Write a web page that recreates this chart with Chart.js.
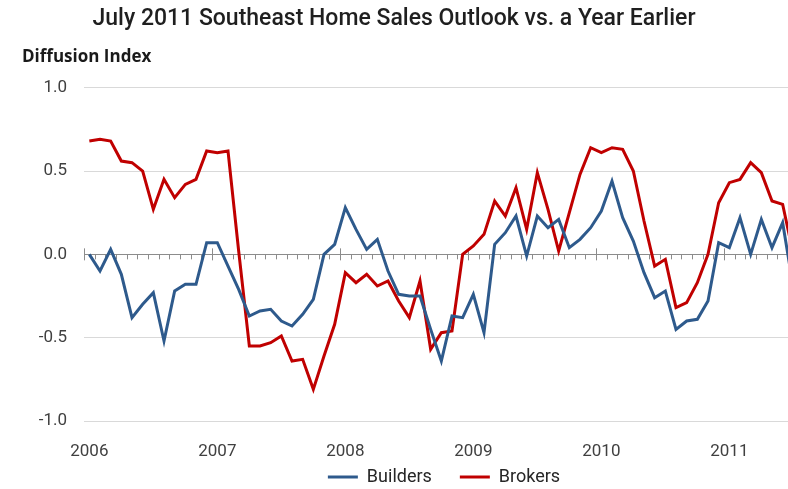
<!DOCTYPE html>
<html><head><meta charset="utf-8">
<script src="https://cdn.jsdelivr.net/npm/chart.js@4.4.1/dist/chart.umd.min.js"></script>
<style>html,body{margin:0;padding:0;background:#fff;overflow:hidden}#wrap{width:788px;height:489px;position:relative}</style>
</head><body><div id="wrap"><canvas id="c"></canvas></div>
<script>
const yearLabels = ['2006','2007','2008','2009','2010','2011'];
const monthNames = ['Jan','Feb','Mar','Apr','May','Jun','Jul','Aug','Sep','Oct','Nov','Dec'];
const categories = [];
yearLabels.forEach(y => monthNames.forEach(m => categories.push(m + ' ' + y)));
categories.length = 67; // Jan 2006 – Jul 2011

const builders = [
  0.00,-0.10, 0.03,-0.12,-0.38,-0.30,-0.23,-0.52,-0.22,-0.18,-0.18, 0.07,
  0.07,-0.07,-0.21,-0.37,-0.34,-0.33,-0.40,-0.43,-0.36,-0.27, 0.00, 0.06,
  0.28, 0.15, 0.03, 0.09,-0.10,-0.24,-0.25,-0.25,-0.45,-0.64,-0.37,-0.38,
 -0.24,-0.47, 0.06, 0.13, 0.23,-0.01, 0.23, 0.16, 0.21, 0.04, 0.09, 0.16,
  0.26, 0.44, 0.22, 0.08,-0.11,-0.26,-0.22,-0.45,-0.40,-0.39,-0.28, 0.07,
  0.04, 0.22, 0.00, 0.21, 0.04, 0.19,-0.20
];
const brokers = [
  0.68, 0.69, 0.68, 0.56, 0.55, 0.50, 0.27, 0.45, 0.34, 0.42, 0.45, 0.62,
  0.61, 0.62, 0.02,-0.55,-0.55,-0.53,-0.49,-0.64,-0.63,-0.81,-0.61,-0.42,
 -0.11,-0.17,-0.12,-0.19,-0.16,-0.28,-0.38,-0.16,-0.57,-0.47,-0.46, 0.00,
  0.05, 0.12, 0.32, 0.23, 0.40, 0.15, 0.49, 0.27, 0.02, 0.25, 0.48, 0.64,
  0.61, 0.64, 0.63, 0.50, 0.20,-0.07,-0.03,-0.32,-0.29,-0.17, 0.00, 0.31,
  0.43, 0.45, 0.55, 0.49, 0.32, 0.30, 0.00
];
const yTickValues = [-1.0, -0.5, 0.0, 0.5, 1.0];

const toPoints = arr => arr.map((v, i) => ({x: i + 0.5, y: v, label: categories[i]}));

const zeroTicks = {
  id: 'zeroTicks',
  beforeDatasetsDraw(chart) {
    const {ctx, scales: {x, y}} = chart;
    const y0 = y.getPixelForValue(0);
    ctx.save();
    ctx.strokeStyle = '#8c8c8c';
    ctx.lineWidth = 1;
    ctx.beginPath();
    for (let k = 0; k <= categories.length; k++) {
      const px = Math.round(x.getPixelForValue(k)) + 0.5;
      if (px > chart.chartArea.right) break;
      const major = k % 12 === 0;
      ctx.moveTo(px, y0 - (major ? 6 : 0));
      ctx.lineTo(px, y0 + (major ? 6 : 5));
    }
    ctx.stroke();
    ctx.restore();
  }
};
const axisTitle = {
  id: 'axisTitle',
  afterDraw(chart) {
    const ctx = chart.ctx;
    ctx.save();
    ctx.font = 'bold 17px "Open Sans"';
    ctx.fillStyle = '#1a1a1a';
    ctx.textBaseline = 'middle';
    ctx.textAlign = 'left';
    ctx.fillText('Diffusion Index', 22, 57);
    ctx.restore();
  }
};
// move the legend row up/right into the space below the year labels
const legendShift = {
  id: 'legendShift',
  afterLayout(chart) {
    const lg = chart.legend;
    if (!lg) return;
    lg.top -= 26;
    lg.height = lg.bottom - lg.top;
    lg.left += 8; lg.right += 8;
  }
};

new Chart(document.getElementById('c'), {
  type: 'line',
  data: {
    datasets: [
      {label: 'Builders', data: toPoints(builders), borderColor: '#2E5A8C', backgroundColor: '#2E5A8C', borderWidth: 3, pointRadius: 0, tension: 0},
      {label: 'Brokers', data: toPoints(brokers), borderColor: '#C00000', backgroundColor: '#C00000', borderWidth: 3, pointRadius: 0, tension: 0}
    ]
  },
  options: {
    responsive: true,
    maintainAspectRatio: false,
    animation: false,
    layout: {padding: 0},
    scales: {
      x: {
        type: 'linear', min: 0, max: 66,
        grid: {display: false, drawTicks: false},
        border: {display: false},
        afterBuildTicks: ax => { ax.ticks = yearLabels.map((_, i) => ({value: i * 12 + 0.5})); },
        afterFit: ax => { ax.height = 45; },
        ticks: {
          padding: 21, color: '#404040', font: {family: 'Roboto', size: 17},
          maxRotation: 0, autoSkip: false,
          callback: v => yearLabels[Math.round((v - 0.5) / 12)]
        }
      },
      y: {
        min: -1, max: 1,
        afterBuildTicks: ax => { ax.ticks = yTickValues.map(v => ({value: v})); },
        afterFit: ax => { ax.width = 84; },
        grid: {
          drawTicks: false,
          color: c => c.tick && c.tick.value === 0 ? '#8c8c8c' : '#d9d9d9',
          lineWidth: 1
        },
        border: {display: false},
        ticks: {padding: 17, color: '#404040', font: {family: 'Roboto', size: 17}, callback: v => v.toFixed(1)}
      }
    },
    plugins: {
      title: {
        display: true,
        text: 'July 2011 Southeast Home Sales Outlook vs. a Year Earlier',
        color: '#1f1f1f',
        font: {family: 'Roboto', size: 23, weight: '500'},
        padding: {top: 5, bottom: 55.1}
      },
      legend: {
        position: 'bottom',
        fullSize: false,
        maxHeight: 23,
        labels: {usePointStyle: true, pointStyle: 'line', pointStyleWidth: 30, padding: 28, color: '#262626', font: {family: 'Roboto', size: 18}}
      },
      tooltip: {enabled: false}
    }
  },
  plugins: [zeroTicks, axisTitle, legendShift]
});
</script></body></html>
